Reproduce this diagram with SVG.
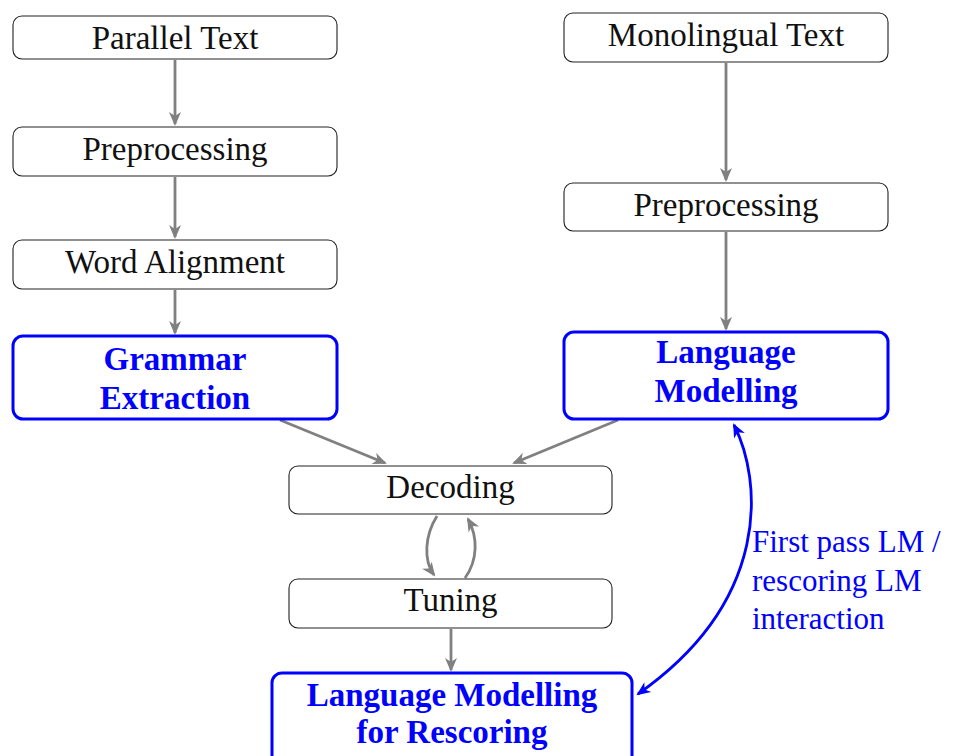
<svg xmlns="http://www.w3.org/2000/svg" width="968" height="756" viewBox="0 0 968 756">
<style>
.box{fill:#fff;stroke:#222;stroke-width:1.1}
.bbox{fill:#fff;stroke:#0000ff;stroke-width:3}
.t{font-family:"Liberation Serif","DejaVu Serif",serif;font-size:33px;fill:#111;text-anchor:middle}
.bt{font-family:"Liberation Serif","DejaVu Serif",serif;font-size:33px;font-weight:bold;fill:#0000ff;text-anchor:middle}
.lbl{font-family:"Liberation Serif","DejaVu Serif",serif;font-size:31px;fill:#0000ff}
.ga{fill:none;stroke:#808080;stroke-width:2.8;marker-end:url(#ag)}
.ba{fill:none;stroke:#0000ff;stroke-width:2.8;marker-end:url(#ab);marker-start:url(#ab)}
</style>
<defs>
<marker id="ag" viewBox="-16 -7 20 14" markerWidth="20" markerHeight="14" refX="0" refY="0" orient="auto" markerUnits="userSpaceOnUse">
<path d="M2,0 L-12,-6 L-8,0 L-12,6 Z" fill="#808080"/>
</marker>
<marker id="ab" viewBox="-16 -7 20 14" markerWidth="20" markerHeight="14" refX="0" refY="0" orient="auto-start-reverse" markerUnits="userSpaceOnUse">
<path d="M2,0 L-12,-6 L-8,0 L-12,6 Z" fill="#0000ff"/>
</marker>
</defs>
<rect width="968" height="756" fill="#fff"/>

<g id="connectors">
<path class="ga" d="M175,60 L175,124"/>
<path class="ga" d="M175,177 L175,237"/>
<path class="ga" d="M175,290 L175,333"/>
<path class="ga" d="M726,63 L726,180"/>
<path class="ga" d="M726,232 L726,329"/>
<path class="ga" d="M280,420 L385,463"/>
<path class="ga" d="M618,420 L514,463"/>
<path class="ga" d="M437,516 C425,535 423,560 434,575"/>
<path class="ga" d="M465,578 C478,560 478,537 468,519"/>
<path class="ga" d="M451,629 L451,670"/>
<path class="ba" d="M734,425 C762,480 772,600 638,694"/>
<g id="edge-label">
<text class="lbl" x="752" y="552">First pass LM /</text>
<text class="lbl" x="752" y="591">rescoring LM</text>
<text class="lbl" x="752" y="629">interaction</text>
</g>
</g>

<g id="parallel-text"><rect class="box" x="13" y="16" width="324" height="43" rx="9"/><text class="t" x="175" y="49">Parallel Text</text></g>
<g id="preprocessing-left"><rect class="box" x="13" y="127" width="324" height="49" rx="9"/><text class="t" x="175" y="160">Preprocessing</text></g>
<g id="word-alignment"><rect class="box" x="13" y="240" width="324" height="49" rx="9"/><text class="t" x="175" y="273">Word Alignment</text></g>
<g id="grammar-extraction"><rect class="bbox" x="13" y="336" width="324" height="83" rx="10"/><text class="bt" x="175" y="370">Grammar</text><text class="bt" x="175" y="409">Extraction</text></g>

<g id="monolingual-text"><rect class="box" x="564" y="13" width="324" height="49" rx="9"/><text class="t" x="726" y="46">Monolingual Text</text></g>
<g id="preprocessing-right"><rect class="box" x="564" y="183" width="324" height="48" rx="9"/><text class="t" x="726" y="216">Preprocessing</text></g>
<g id="language-modelling"><rect class="bbox" x="564" y="332" width="324" height="87" rx="10"/><text class="bt" x="726" y="363">Language</text><text class="bt" x="726" y="402">Modelling</text></g>

<g id="decoding"><rect class="box" x="289" y="466" width="323" height="48" rx="9"/><text class="t" x="450.5" y="498">Decoding</text></g>
<g id="tuning"><rect class="box" x="289" y="579" width="323" height="49" rx="9"/><text class="t" x="450.5" y="611">Tuning</text></g>
<g id="lm-rescoring"><rect class="bbox" x="272" y="673" width="360" height="100" rx="10"/><text class="bt" x="452" y="706">Language Modelling</text><text class="bt" x="452" y="743">for Rescoring</text></g>
</svg>
